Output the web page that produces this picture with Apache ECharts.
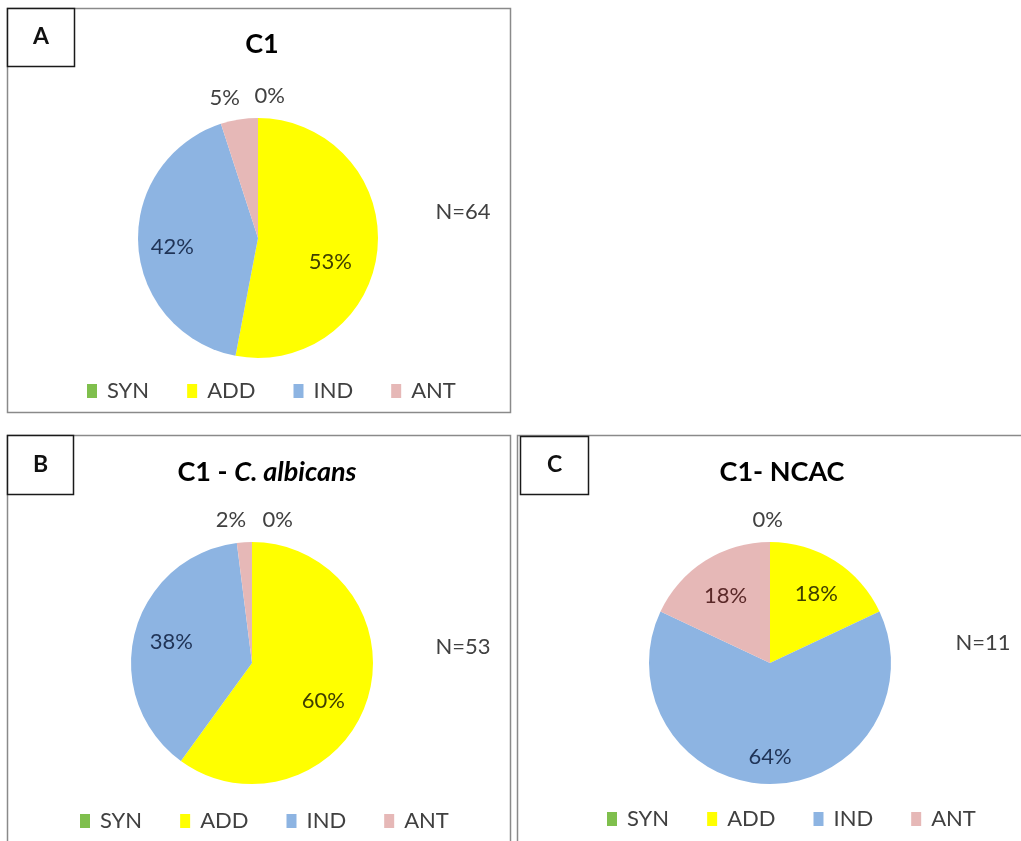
<!DOCTYPE html>
<html><head><meta charset="utf-8">
<script src="https://cdn.jsdelivr.net/npm/echarts@6/dist/echarts.min.js"></script>
<style>html,body{margin:0;padding:0;background:#fff}#c{width:1021px;height:841px}</style>
</head><body><div id="c"></div>
<script>
// ---- data ----
const categories = ['SYN', 'ADD', 'IND', 'ANT'];
const valuesA = [0, 53, 42, 5];
const valuesB = [0, 60, 38, 2];
const valuesC = [0, 18, 64, 18];
const nLabels = ['N=64', 'N=53', 'N=11'];
const panelLetters = ['A', 'B', 'C'];
const titleParts = [['C1', ''], ['C1 - ', 'C. albicans'], ['C1- NCAC', '']];

// ---- style ----
const FONT = 'Lato, "Open Sans", sans-serif';
const colors = ['#7fbf4d', '#ffff00', '#8db4e2', '#e6b8b7'];
const insideLabelColors = ['#2f4f1f', '#3f3f00', '#1f3356', '#5a2828'];
const valueSets = [valuesA, valuesB, valuesC];

const layout = [
  { cx: 258, cy: 238, r: 120, box: [7, 8, 503, 404], lbox: [7, 8, 67, 58], title: [262, 44], n: [463, 212], legend: [87, 380],
    zeroOff: [29, 0], smallOff: [6, 0], inOff: [[0, 0], [-13, 16], [0, 4], [0, 0]] },
  { cx: 252, cy: 663, r: 121, box: [7, 435, 503, 440], lbox: [7, 435, 66, 59], title: [267, 472], n: [463, 647], legend: [80, 810],
    zeroOff: [43, 0], smallOff: [5, 0], inOff: [[0, 0], [-11, 11], [3, 0], [0, 0]] },
  { cx: 770, cy: 663, r: 121, box: [517, 435, 520, 440], lbox: [520, 436, 68, 58], title: [782, 472], n: [983, 643], legend: [607, 808],
    zeroOff: [15, 0], smallOff: [0, 0], inOff: [[0, 0], [0, 4], [0, 7], [2, 6]] }
];

const series = [];
const legends = [];
const graphics = [];

layout.forEach((L, pi) => {
  const vals = valueSets[pi];
  // main pie (outside labels for small slices)
  series.push({
    type: 'pie',
    name: 'main' + pi,
    center: [L.cx, L.cy],
    radius: [0, L.r],
    startAngle: 90,
    clockwise: true,
    avoidLabelOverlap: false,
    percentPrecision: 0,
    silent: true,
    itemStyle: { borderWidth: 0 },
    label: {
      show: true,
      position: 'outside',
      fontFamily: FONT,
      fontSize: 22,
      color: '#404040',
      distanceToLabelLine: 2,
      formatter: p => (p.percent < 10 ? p.percent + '%' : '')
    },
    labelLine: { show: false, length: 22, length2: 0 },
    labelLayout: { hideOverlap: false },
    data: categories.map((name, i) => ({
      name, value: vals[i],
      itemStyle: { color: colors[i] },
      label: { offset: vals[i] === 0 ? L.zeroOff : L.smallOff }
    }))
  });
  // label-only pie for inside labels
  series.push({
    type: 'pie',
    name: 'lab' + pi,
    center: [L.cx, L.cy],
    radius: [0, L.r * 1.38],
    startAngle: 90,
    clockwise: true,
    avoidLabelOverlap: false,
    percentPrecision: 0,
    silent: true,
    z: 5,
    itemStyle: { color: 'rgba(0,0,0,0)', borderWidth: 0 },
    label: {
      show: true,
      position: 'inside',
      fontFamily: FONT,
      fontSize: 22,
      formatter: p => (p.percent >= 10 ? p.percent + '%' : '')
    },
    labelLine: { show: false },
    labelLayout: { hideOverlap: false },
    data: categories.map((name, i) => ({
      name, value: vals[i],
      itemStyle: { color: 'rgba(0,0,0,0)' },
      label: { color: insideLabelColors[i], offset: L.inOff[i] }
    }))
  });

  legends.push({
    left: L.legend[0], top: L.legend[1],
    padding: 0,
    itemWidth: 10, itemHeight: 14,
    itemGap: 38,
    icon: 'rect',
    selectedMode: false,
    textStyle: { fontFamily: FONT, fontSize: 22, color: '#404040', lineHeight: 22, padding: [0, 0, 0, 5] },
    data: categories.slice()
  });

  // panel border
  graphics.push({
    type: 'rect', silent: true, z: 0,
    shape: { x: L.box[0] + 0.5, y: L.box[1] + 0.5, width: L.box[2], height: L.box[3] },
    style: { fill: 'none', stroke: '#8a8a8a', lineWidth: 1.5 }
  });
  // letter box
  graphics.push({
    type: 'rect', silent: true, z: 1,
    shape: { x: L.lbox[0] + 0.5, y: L.lbox[1] + 0.5, width: L.lbox[2], height: L.lbox[3] },
    style: { fill: '#fff', stroke: '#1a1a1a', lineWidth: 1.5 }
  });
  graphics.push({
    type: 'text', silent: true, z: 2,
    style: {
      x: L.lbox[0] + L.lbox[2] / 2 + 0.5, y: L.lbox[1] + L.lbox[3] / 2,
      text: panelLetters[pi], align: 'center', verticalAlign: 'middle',
      font: 'bold 23px ' + FONT, fill: '#111'
    }
  });
  // title
  const tp = titleParts[pi];
  graphics.push({
    type: 'text', silent: true, z: 2,
    style: {
      x: L.title[0], y: L.title[1],
      text: '{a|' + tp[0] + '}' + (tp[1] ? '{b|' + tp[1] + '}' : ''),
      align: 'center', verticalAlign: 'middle',
      rich: {
        a: { fontFamily: FONT, fontWeight: 'bold', fontSize: 27, color: '#000' },
        b: { fontFamily: FONT, fontWeight: 'bold', fontStyle: 'italic', fontSize: 27, color: '#000' }
      }
    }
  });
  // N label
  graphics.push({
    type: 'text', silent: true, z: 2,
    style: {
      x: L.n[0], y: L.n[1], text: nLabels[pi],
      align: 'center', verticalAlign: 'middle',
      font: '22px ' + FONT, fill: '#404040'
    }
  });
});

const chart = echarts.init(document.getElementById('c'), null, { renderer: 'canvas' });
chart.setOption({
  animation: false,
  backgroundColor: '#fff',
  legend: legends,
  series: series,
  graphic: { elements: graphics }
});
</script>
</body></html>
